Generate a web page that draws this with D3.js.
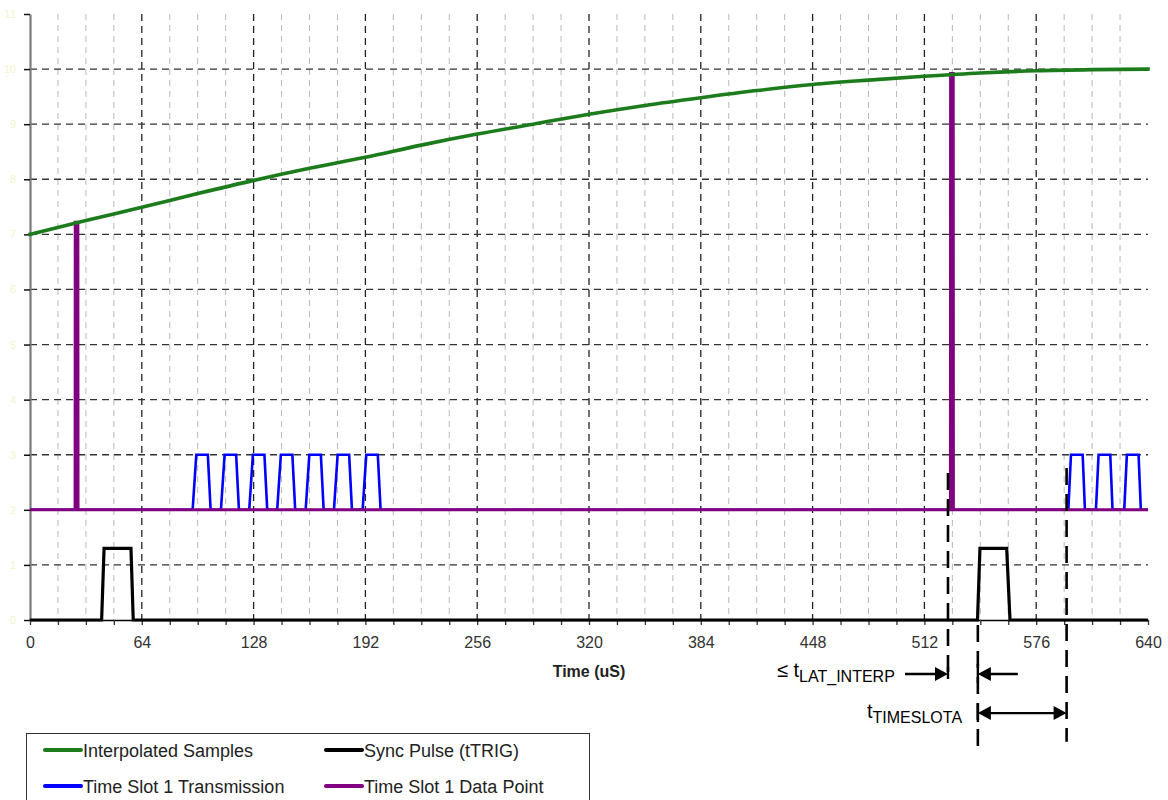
<!DOCTYPE html>
<html>
<head>
<meta charset="utf-8">
<script src="https://cdn.jsdelivr.net/npm/d3@7"></script>
<style>
  html, body { margin: 0; padding: 0; background: #fff; }
  svg { display: block; font-family: Arial, "Liberation Sans", sans-serif; }
</style>
</head>
<body>
<svg id="chart" width="1168" height="800"></svg>
<script>
// ---------------- DATA ----------------
const xTickValues = [0, 64, 128, 192, 256, 320, 384, 448, 512, 576, 640];
const yTickValues = [0, 1, 2, 3, 4, 5, 6, 7, 8, 9, 10, 11];

// Interpolated Samples (green)
const interpTime  = [0, 32, 64, 96, 128, 160, 192, 224, 256, 288, 320, 352, 384, 416, 448, 480, 512, 544, 576, 608, 640];
const interpValue = [7.0, 7.25, 7.49, 7.74, 7.98, 8.2, 8.4, 8.62, 8.82, 9.0, 9.18, 9.34, 9.48, 9.61, 9.72, 9.8, 9.87, 9.93, 9.97, 9.99, 10.0];

// Time Slot 1 Transmission (blue)
const txTime  = [0, 93.1, 95.2, 101.8, 103.4, 109.3, 111.4, 118.0, 119.6, 125.5, 127.6, 134.2, 135.8,
                 141.5, 143.6, 150.2, 151.8, 157.8, 159.9, 166.5, 168.1, 174.0, 176.1, 182.7, 184.3,
                 190.4, 192.5, 199.1, 200.7, 594.4, 595.9, 602.6, 603.9, 610.2, 611.7, 618.4, 619.7,
                 626.4, 627.9, 634.6, 635.9, 640];
const txValue = [2, 2, 3, 3, 2, 2, 3, 3, 2, 2, 3, 3, 2,
                 2, 3, 3, 2, 2, 3, 3, 2, 2, 3, 3, 2,
                 2, 3, 3, 2, 2, 3, 3, 2, 2, 3, 3, 2,
                 2, 3, 3, 2, 2];

// Sync Pulse (tTRIG) (black)
const syncTime  = [0, 41.0, 42.4, 57.8, 59.1, 542.4, 543.8, 559.1, 561.0, 640];
const syncValue = [0, 0, 1.3, 1.3, 0, 0, 1.3, 1.3, 0, 0];

// Time Slot 1 Data Point (purple)
const dataTime  = [0, 25.8, 25.9, 27.4, 27.5, 526.9, 527.0, 528.5, 528.6, 640];
const dataValue = [2, 2, 7.22, 7.22, 2, 2, 9.92, 9.92, 2, 2];

const seriesNames  = ["Interpolated Samples", "Time Slot 1 Transmission", "Sync Pulse (tTRIG)", "Time Slot 1 Data Point"];
const seriesColors = ["#1c7c1c", "#0000ff", "#000000", "#800080"];

// Annotation markers (time, y-range in axis units, can go below axis)
const markerTime = [525.5, 542.6, 593.4];
const markerTop  = [2.67, -0.09, 2.76];
const markerBot  = [-1.09, -2.4, -2.21];

// ---------------- CHART ----------------
const svg = d3.select("#chart");
const x = d3.scaleLinear().domain([0, 640]).range([30, 1148]);
const y = d3.scaleLinear().domain([0, 11]).range([620, 14]);

const grid = svg.append("g");
// minor vertical grid (every 16)
const minorV = d3.range(16, 640, 16).filter(v => v % 64 !== 0);
grid.selectAll("line.minor").data(minorV).join("line")
  .attr("x1", d => x(d)).attr("x2", d => x(d))
  .attr("y1", y(11)).attr("y2", y(0))
  .attr("stroke", "#b8b8b8").attr("stroke-width", 1).attr("stroke-dasharray", "6,5");
// major vertical grid
grid.selectAll("line.majorv").data(xTickValues.filter(v => v > 0 && v < 640)).join("line")
  .attr("x1", d => x(d)).attr("x2", d => x(d))
  .attr("y1", y(11)).attr("y2", y(0))
  .attr("stroke", "#222").attr("stroke-width", 1.3).attr("stroke-dasharray", "7,5");
// horizontal grid
grid.selectAll("line.majorh").data(yTickValues.filter(v => v > 0 && v < 11)).join("line")
  .attr("x1", x(0)).attr("x2", x(640))
  .attr("y1", d => y(d)).attr("y2", d => y(d))
  .attr("stroke", "#333").attr("stroke-width", 1.3).attr("stroke-dasharray", "7,5");

// x axis
const xAxis = svg.append("g").attr("transform", `translate(0,${y(0)})`)
  .call(d3.axisBottom(x).tickValues(d3.range(0, 641, 16))
    .tickFormat(d => (d % 64 === 0 ? d : ""))
    .tickSize(5).tickSizeOuter(0).tickPadding(12));
xAxis.select(".domain").attr("stroke", "#000").attr("stroke-width", 1.5);
xAxis.selectAll(".tick line").attr("stroke", "#333").attr("stroke-width", 1.3);
xAxis.selectAll(".tick text").attr("fill", "#333").attr("font-size", 16)
  .attr("font-family", "Arial, 'Liberation Sans', sans-serif");

// y axis
const yAxis = svg.append("g").attr("transform", `translate(${x(0)},0)`)
  .call(d3.axisLeft(y).tickValues(yTickValues).tickSize(6).tickSizeOuter(0).tickPadding(8));
yAxis.select(".domain").attr("stroke", "#7a7a7a").attr("stroke-width", 2.2);
yAxis.selectAll(".tick line").attr("stroke", "#111").attr("stroke-width", 1.5);
yAxis.selectAll(".tick text").attr("fill", "#f4f4cc").attr("font-size", 11)
  .attr("font-family", "Arial, 'Liberation Sans', sans-serif");

// axis title
svg.append("text").attr("x", x(320)).attr("y", 677).attr("text-anchor", "middle")
  .attr("font-size", 16).attr("font-weight", "bold").attr("fill", "#222").text("Time (uS)");

// series
const line = d3.line().x(d => x(d[0])).y(d => y(d[1]));
const smooth = d3.line().x(d => x(d[0])).y(d => y(d[1])).curve(d3.curveMonotoneX);

svg.append("path").datum(d3.zip(txTime, txValue)).attr("d", line)
  .attr("fill", "none").attr("stroke", seriesColors[1]).attr("stroke-width", 2.6)
  .attr("stroke-linejoin", "miter");
svg.append("path").datum(d3.zip(syncTime, syncValue)).attr("d", line)
  .attr("fill", "none").attr("stroke", seriesColors[2]).attr("stroke-width", 3.2)
  .attr("stroke-linejoin", "miter");
svg.append("path").datum(d3.zip(dataTime, dataValue)).attr("d", line)
  .attr("fill", "none").attr("stroke", seriesColors[3]).attr("stroke-width", 3)
  .attr("stroke-linejoin", "miter");
svg.append("path").datum(d3.zip(interpTime, interpValue)).attr("d", smooth)
  .attr("fill", "none").attr("stroke", seriesColors[0]).attr("stroke-width", 3.6)
  .attr("stroke-linecap", "square");

// annotation dashed markers
svg.selectAll("line.marker").data(d3.zip(markerTime, markerTop, markerBot)).join("line")
  .attr("x1", d => x(d[0])).attr("x2", d => x(d[0]))
  .attr("y1", d => y(d[1])).attr("y2", d => y(d[2]))
  .attr("stroke", "#000").attr("stroke-width", 2.6).attr("stroke-dasharray", "17,9");

// arrows
function arrowHead(tipX, tipY, dir) { // dir +1 points right, -1 points left
  const L = 13, H = 7;
  svg.append("path")
    .attr("d", `M${tipX},${tipY} L${tipX - dir * L},${tipY - H} L${tipX - dir * L},${tipY + H} Z`)
    .attr("fill", "#000");
}
function hLine(x1, x2, yy) {
  svg.append("line").attr("x1", x1).attr("x2", x2).attr("y1", yy).attr("y2", yy)
    .attr("stroke", "#000").attr("stroke-width", 2.4);
}
const r1 = y(-0.98), r2 = y(-1.69);
// row 1
hLine(x(500.9), x(markerTime[0]) - 8, r1); arrowHead(x(markerTime[0]), r1, 1);
hLine(x(markerTime[1]) + 8, x(565.5), r1); arrowHead(x(markerTime[1]), r1, -1);
svg.append("line").attr("x1", x(markerTime[0])).attr("x2", x(markerTime[0]))
  .attr("y1", r1 - 7).attr("y2", r1 + 5).attr("stroke", "#000").attr("stroke-width", 2.4);
svg.append("line").attr("x1", x(markerTime[1])).attr("x2", x(markerTime[1]))
  .attr("y1", r1 - 10).attr("y2", r1 + 9).attr("stroke", "#000").attr("stroke-width", 2.4);
// row 2
hLine(x(markerTime[1]) + 8, x(markerTime[2]) - 8, r2);
arrowHead(x(markerTime[1]), r2, -1); arrowHead(x(markerTime[2]), r2, 1);
svg.append("line").attr("x1", x(markerTime[1])).attr("x2", x(markerTime[1]))
  .attr("y1", r2 - 10).attr("y2", r2 + 9).attr("stroke", "#000").attr("stroke-width", 2.4);

// annotation text
const t1 = svg.append("text").attr("x", 777).attr("y", 677).attr("fill", "#000").attr("font-size", 20);
t1.append("tspan").text("≤ t");
t1.append("tspan").attr("font-size", 16).attr("dy", 5).text("LAT_INTERP");
const t2 = svg.append("text").attr("x", 867).attr("y", 718).attr("fill", "#000").attr("font-size", 20);
t2.append("tspan").text("t");
t2.append("tspan").attr("font-size", 16).attr("dy", 5).text("TIMESLOTA");

// legend
const lg = svg.append("g");
lg.append("rect").attr("x", 26.5).attr("y", 733.5).attr("width", 563).attr("height", 90)
  .attr("fill", "#fff").attr("stroke", "#333").attr("stroke-width", 1);
const legendPos = [[45, 750], [45, 786], [326, 750], [326, 786]];
seriesNames.forEach((name, i) => {
  const [lx, ly] = legendPos[i];
  lg.append("line").attr("x1", lx).attr("x2", lx + 36).attr("y1", ly).attr("y2", ly)
    .attr("stroke", seriesColors[i]).attr("stroke-width", 4).attr("stroke-linecap", "round");
  lg.append("text").attr("x", lx + 38).attr("y", ly + 6.5).attr("font-size", 18)
    .attr("fill", "#222").text(name);
});
</script>
</body>
</html>
